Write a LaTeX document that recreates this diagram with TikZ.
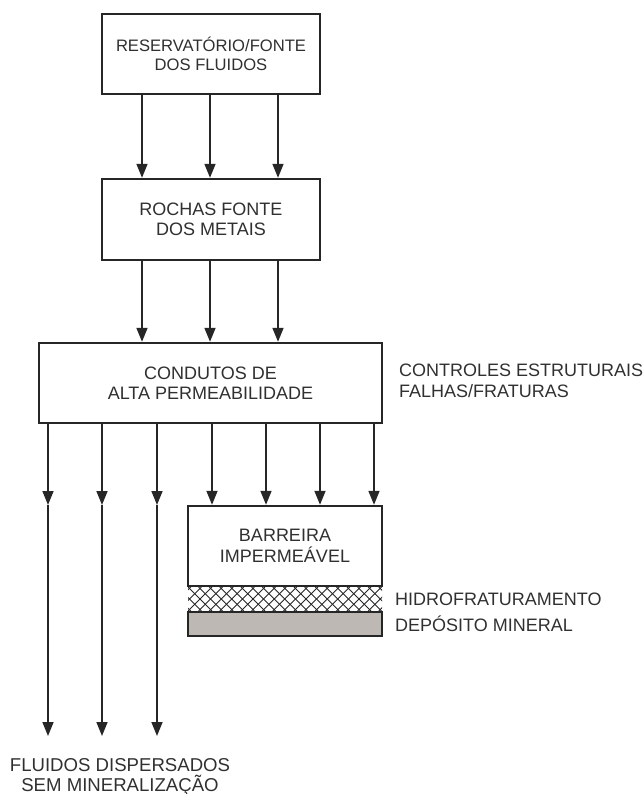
\documentclass[tikz,border=0pt]{standalone}
\usepackage{fontspec}
\setmainfont{Liberation Sans}
\usetikzlibrary{arrows.meta}
\definecolor{ink}{HTML}{262626}
\definecolor{txt}{HTML}{303030}
\definecolor{depo}{HTML}{BEB8B4}
\tikzset{
  box/.style={draw=ink, line width=2.4pt, fill=white, align=center, text=txt, inner sep=0pt,
    font=\fontsize{18}{20.5}\selectfont},
  lbl/.style={text=txt, inner sep=0pt, font=\fontsize{18}{20.5}\selectfont},
  arr/.style={draw=ink, line width=1.6pt, -{Triangle[width=11pt,length=14pt]}}
}
\begin{document}
\begin{tikzpicture}[x=1pt,y=-1pt]
\useasboundingbox (0,0) rectangle (643,794);
% boxes
\node[box, minimum width=218pt, minimum height=80pt, font=\fontsize{16.6}{19.5}\selectfont] (res) at (211,54) {RESERVATÓRIO/FONTE\\DOS FLUIDOS};
\node[box, minimum width=218pt, minimum height=81pt] (roc) at (211,219.5) {ROCHAS FONTE\\DOS METAIS};
\node[box, minimum width=343pt, minimum height=80pt] (con) at (210.5,383) {CONDUTOS DE\\ALTA PERMEABILIDADE};
\node[box, minimum width=194pt, minimum height=80pt] (bar) at (285,546) {BARREIRA\\IMPERMEÁVEL};
% hatched layer
\begin{scope}
  \clip (188,587) rectangle (382,611);
  \foreach \i in {-4,...,22} {
    \draw[ink, line width=0.9pt] (188+\i*10.6,587) -- ++(24,24);
    \draw[ink, line width=0.9pt] (188+\i*10.6,611) -- ++(24,-24);
  }
\end{scope}
% deposit
\node[draw=ink, line width=2pt, fill=depo, minimum width=194pt, minimum height=24pt, inner sep=0pt] (dep) at (285,624) {};
% labels
\node[lbl, anchor=west] (lhid) at (395,599) {HIDROFRATURAMENTO};
\node[lbl, anchor=west] (ldep) at (395,624) {DEPÓSITO MINERAL};
\node[lbl, anchor=west, align=left] (lctr) at (399,381) {CONTROLES ESTRUTURAIS\\FALHAS/FRATURAS};
\node[lbl, align=center, font=\fontsize{18.6}{19.5}\selectfont] (lflu) at (120,777) {FLUIDOS DISPERSADOS\\SEM MINERALIZAÇÃO};
% column coordinates
\foreach \n/\x in {a1/142,a2/210,a3/278,c1/212,c2/266,c3/320,c4/374} {
  \coordinate (\n) at (\x,0);
}
% arrows res -> roc, roc -> con
\foreach \n in {a1,a2,a3} {
  \draw[arr] (res.south -| \n) -- (roc.north -| \n);
  \draw[arr] (roc.south -| \n) -- (con.north -| \n);
}
% arrows con -> bar
\foreach \n in {c1,c2,c3,c4} {
  \draw[arr] (con.south -| \n) -- (bar.north -| \n);
}
% dispersed fluids arrows
\foreach \n/\x in {b1/48,b2/102,b3/157} {
  \coordinate (m\n) at (\x,505);
  \coordinate (e\n) at (\x,736);
  \draw[arr] (con.south -| m\n) -- (m\n);
  \draw[arr] (m\n) -- (e\n);
}
\end{tikzpicture}
\end{document}
